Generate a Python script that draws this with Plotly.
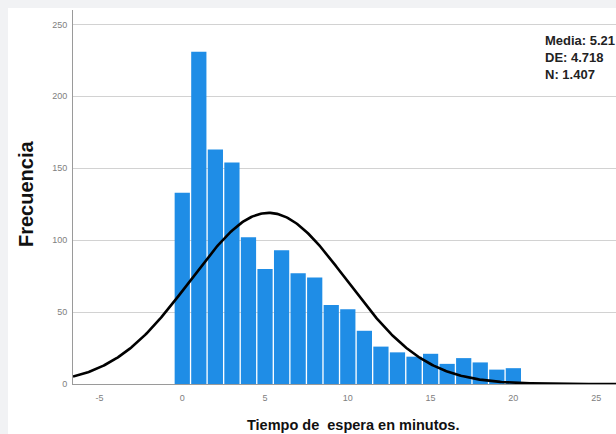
import numpy as np
import plotly.graph_objects as go

# Data
minutes = list(range(0, 21))
counts = [133, 231, 163, 154, 102, 80, 93, 77, 74, 55, 52, 37, 26, 22, 19, 21, 14, 18, 15, 10, 11]
media = 5.213
de = 4.718
n = 1407
x_ticks = [-5, 0, 5, 10, 15, 20, 25]
y_ticks = [0, 50, 100, 150, 200, 250]

# Fitted normal curve from the reported statistics
xc = np.linspace(-6.6, 26.2, 400)
yc = n * 1.0 / (de * np.sqrt(2 * np.pi)) * np.exp(-0.5 * ((xc - media) / de) ** 2)

W, H = 616, 434
L, R, T, B = 73, 0, 10, 50
pw, ph = W - L - R, H - T - B


def px(xp):
    return (xp - L) / pw


def py(yp):
    return (H - B - yp) / ph


fig = go.Figure()
fig.add_trace(go.Bar(x=minutes, y=counts, width=0.92,
                     marker=dict(color="#1f8de6", line=dict(width=0)),
                     showlegend=False, hoverinfo="x+y"))
fig.add_trace(go.Scatter(x=xc, y=yc, mode="lines",
                         line=dict(color="black", width=2.6),
                         showlegend=False, hoverinfo="skip"))

fig.update_layout(
    width=W, height=H,
    margin=dict(l=L, r=R, t=T, b=B),
    paper_bgcolor="#f1f2f4", plot_bgcolor="white",
    font=dict(family="Liberation Sans, Arial, sans-serif"),
    xaxis=dict(range=[-6.6, 26.2], tickvals=x_ticks, ticktext=[str(v) for v in x_ticks],
               showgrid=False, zeroline=False, showline=True, linecolor="#9a9a9a", linewidth=1,
               ticks="", ticklabelstandoff=5, tickfont=dict(size=9, color="#808080")),
    yaxis=dict(range=[0, 260], tickvals=y_ticks, ticktext=[str(v) for v in y_ticks],
               showgrid=True, gridcolor="#d2d2d2", gridwidth=1, zeroline=False,
               showline=True, linecolor="#9a9a9a", linewidth=1,
               ticks="", ticklabelstandoff=3, tickfont=dict(size=9, color="#808080")),
    shapes=[
        dict(type="rect", xref="paper", yref="paper", layer="below",
             x0=px(8), x1=px(W + 5), y0=py(H + 5), y1=py(8),
             fillcolor="white", line=dict(width=0)),
    ],
    annotations=[
        dict(text="<b>Frecuencia</b>", textangle=-90, x=px(26), y=py(194),
             xref="paper", yref="paper", showarrow=False,
             font=dict(size=20, color="#111"), xanchor="center", yanchor="middle"),
        dict(text="<b>Tiempo de  espera en minutos.</b>", x=px(353), y=py(425),
             xref="paper", yref="paper", showarrow=False,
             font=dict(size=14.5, color="#111"), xanchor="center", yanchor="middle"),
        dict(text="<b>Media: 5.21</b><br><b>DE: 4.718</b><br><b>N: 1.407</b>",
             x=px(543), y=py(31), xref="paper", yref="paper", align="left",
             showarrow=False, font=dict(size=13, color="#222"),
             xanchor="left", yanchor="top"),
    ],
)

fig.write_html("out.html")
